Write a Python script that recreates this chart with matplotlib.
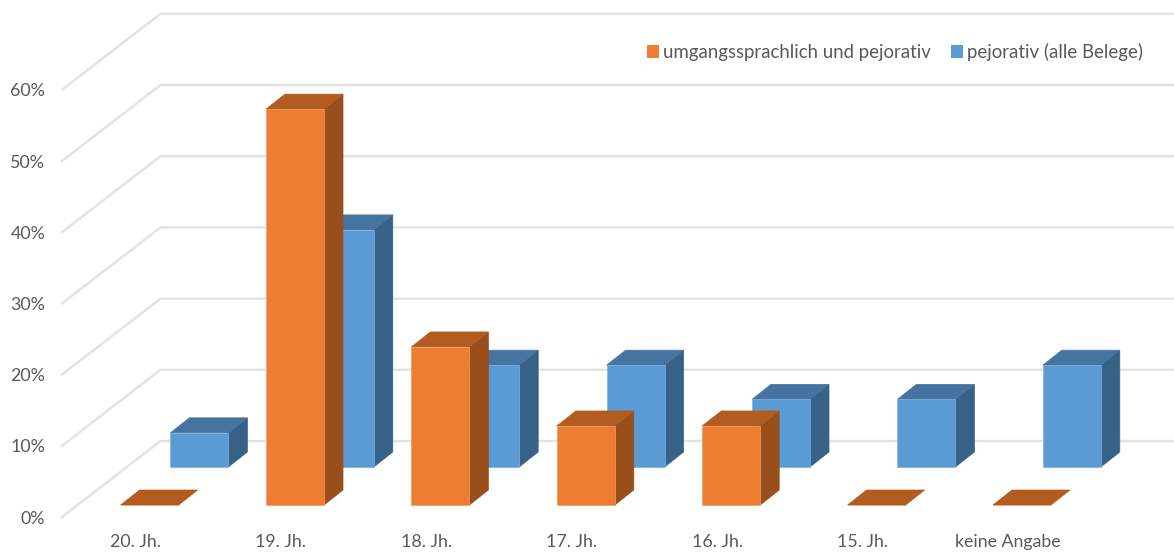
import matplotlib
matplotlib.use("Agg")
import matplotlib.pyplot as plt
from matplotlib.patches import Polygon, Patch

categories = ["20. Jh.", "19. Jh.", "18. Jh.", "17. Jh.", "16. Jh.", "15. Jh.", "keine Angabe"]
umgangssprachlich = [0, 55.6, 22.2, 11.1, 11.1, 0, 0]
pejorativ = [4.8, 33.3, 14.3, 14.3, 9.5, 9.5, 14.3]
y_ticks = [0, 10, 20, 30, 40, 50, 60]
names = ["umgangssprachlich und pejorativ", "pejorativ (alle Belege)"]

W, H = 1174, 552
L_PX, R_PX, B_PX = 62, 1174, 517
PX_X = 145.4       # pixels per category
PX_Y = 7.12        # pixels per percent
X0_PX = 135.5

plt.rcParams['font.family'] = ['Lato', 'DejaVu Sans']
fig = plt.figure(figsize=(W / 100, H / 100), dpi=100)
ax = fig.add_axes([L_PX / W, 1 - B_PX / H, (R_PX - L_PX) / W, B_PX / H])
ax.set_xlim((L_PX - X0_PX) / PX_X, (R_PX - X0_PX) / PX_X)
ax.set_ylim(0, B_PX / PX_Y)
for s in ax.spines.values():
    s.set_visible(False)
ax.patch.set_visible(False)

TXT = "#595959"
ax.set_xticks(range(len(categories)), categories)
ax.set_yticks(y_ticks, [f"{v}%" for v in y_ticks])
ax.tick_params(axis='x', length=0, pad=12, labelsize=12.8, labelcolor=TXT)
ax.tick_params(axis='y', length=0, pad=12, labelsize=12.9, labelcolor=TXT)

# walls
WALL_BASE = 76 / PX_Y
WALL_X = (160.5 - X0_PX) / PX_X
xmin, xmax = ax.get_xlim()
GRID = "#E3E3E3"
for v in y_ticks:
    ax.plot([xmin, WALL_X, xmax], [v, v + WALL_BASE, v + WALL_BASE],
            color=GRID, lw=1.8, zorder=1, clip_on=False, solid_joinstyle='miter')

DX = 19 / PX_X
DY = 15 / PX_Y
BAR_W = 58 / PX_X


def bars(values, x_off, base, front, top, side, edge, z):
    for i, v in enumerate(values):
        x0 = i + x_off
        x1 = x0 + BAR_W
        y1 = base + v
        if v > 0:
            ax.add_patch(Polygon([(x1, base), (x1 + DX, base + DY), (x1 + DX, y1 + DY), (x1, y1)],
                                 fc=side, ec=side, lw=0.5, zorder=z))
        ax.add_patch(Polygon([(x0, y1), (x1, y1), (x1 + DX, y1 + DY), (x0 + DX, y1 + DY)],
                             fc=top, ec=top, lw=0.5, zorder=z))
    ax.bar([i + x_off for i in range(len(values))], values, width=BAR_W, bottom=base,
           align='edge', color=front, edgecolor=edge, linewidth=0.5, zorder=z + 0.1)


bars(pejorativ, (170.4 - X0_PX) / PX_X, 50 / PX_Y, "#5B9BD5", "#44749F", "#376186", "#7FB0DE", 2)
bars(umgangssprachlich, (120.6 - X0_PX) / PX_X, 12 / PX_Y, "#ED7D31", "#B25C20", "#994F1B", "#F19A60", 3)

handles = [Patch(fc="#ED7D31", ec="none"), Patch(fc="#5B9BD5", ec="none")]
fig.legend(handles, names, loc='center right', bbox_to_anchor=(1143 / W, 1 - 52 / H),
           ncol=2, frameon=False, fontsize=13.4, labelcolor=TXT,
           handlelength=0.62, handleheight=0.62, handletextpad=0.22, columnspacing=1.12,
           borderpad=0, borderaxespad=0)

fig.savefig("out.png", dpi=100)
